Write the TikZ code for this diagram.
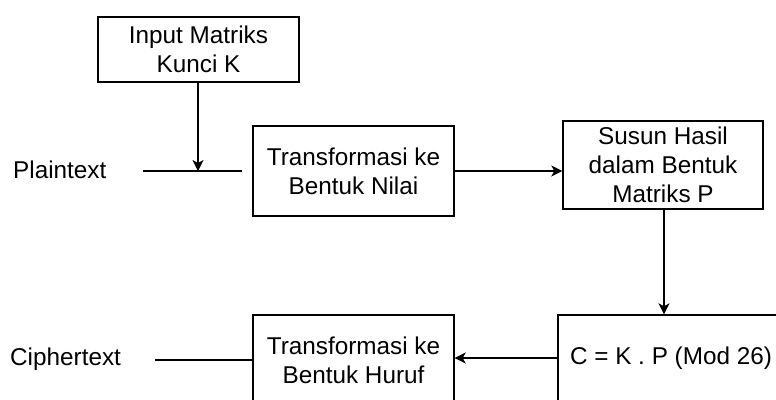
\documentclass[tikz,border=0pt]{standalone}
\usepackage{fontspec}
\setmainfont{Liberation Sans}
\usetikzlibrary{arrows.meta}
\begin{document}
\begin{tikzpicture}[x=1pt,y=-1pt,
  every node/.style={font=\fontsize{24.3}{29.3}\selectfont, inner sep=0pt, align=center},
  box/.style={draw, line width=1.4pt},
  conn/.style={line width=1.4pt},
  arr/.style={conn, -{Stealth[length=11pt,width=11pt,inset=3pt]}}]
\useasboundingbox (0,0) rectangle (776,399);
\fill[white] (0,0) rectangle (776,399);
\clip (0,0) rectangle (776,399);
\node[box, minimum width=201pt, minimum height=65pt] (input) at (198.5,49.5) {Input Matriks\\Kunci K};
\node[box, minimum width=201pt, minimum height=90pt] (nilai) at (353.5,171) {Transformasi ke\\Bentuk Nilai};
\node[box, minimum width=200pt, minimum height=88pt] (susun) at (663,165) {Susun Hasil\\dalam Bentuk\\Matriks P};
\node[box, minimum width=226pt, minimum height=86pt] (cbox) at (671,358) {C = K . P (Mod 26)};
\node[box, minimum width=201pt, minimum height=90pt] (huruf) at (353.5,360) {Transformasi ke\\Bentuk Huruf};
\node[anchor=west] (plain) at (13,170) {Plaintext};
\node[anchor=west] (cipher) at (10,359) {Ciphertext};
\coordinate (pl1) at (143,171);
\coordinate (pl2) at (242,171);
\coordinate (pj) at (198,171);
\coordinate (ci1) at (155,360);
\draw[conn] (pl1) -- (pl2);
\draw[arr] (input.south -| pj) -- (pj);
\draw[arr] (nilai.east) -- (nilai.east -| susun.west);
\draw[arr] (susun.south -| 664,0) -- (cbox.north -| 664,0);
\draw[arr] (cbox.west) -- (cbox.west -| huruf.east);
\draw[conn] (ci1) -- (ci1 -| huruf.west);
\end{tikzpicture}
\end{document}
